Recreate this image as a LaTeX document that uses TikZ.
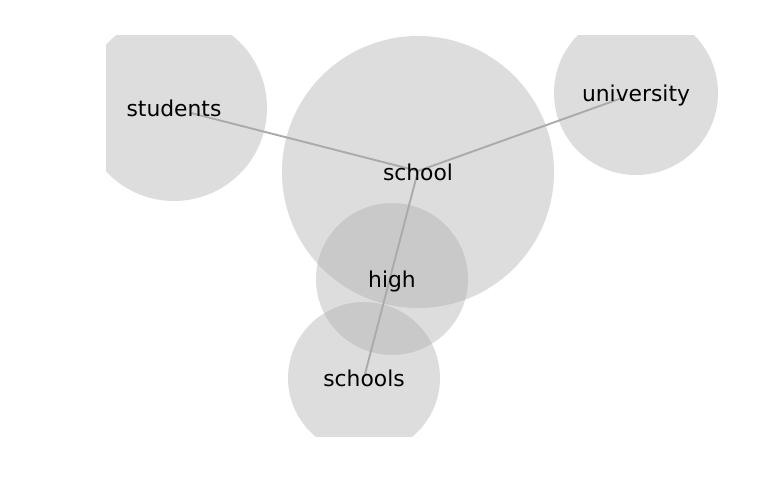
\documentclass[tikz,border=0pt]{standalone}
\usepackage{fontspec}
\setmainfont{DejaVu Sans}
\usepackage{xcolor}
\usepackage{tikz}
\definecolor{bubble}{RGB}{173,173,173}
\definecolor{edgegray}{RGB}{170,170,170}

\begin{document}
\begin{tikzpicture}[x=1bp,y=-1bp,every node/.style={font=\fontsize{21.9}{26}\selectfont,inner sep=0pt,text depth=0pt},
  bubble/.style={fill=bubble,fill opacity=0.41},
  link/.style={draw=edgegray,line width=1.9bp}]
\useasboundingbox (0,0) rectangle (780,500);
\begin{scope}
\clip (106,36) rectangle (780,436);
\fill[bubble] (174,108) circle (93);
\fill[bubble] (418,172) circle (136);
\fill[bubble] (636,93) circle (82);
\fill[bubble] (392,279) circle (76);
\fill[bubble] (364,378) circle (76);
\end{scope}
\coordinate (students) at (191,113);
\coordinate (school) at (418,171);
\coordinate (university) at (622,98);
\coordinate (schools) at (365,374);
\draw[link] (students) -- (school);
\draw[link] (university) -- (school);
\draw[link] (schools) -- (school);
\node (studentsl) at (174,108) {students};
\node (schooll) at (418,172) {school};
\node (universityl) at (636,93) {university};
\node (highl) at (392,279) {high};
\node (schoolsl) at (364,378) {schools};
\end{tikzpicture}
\end{document}
